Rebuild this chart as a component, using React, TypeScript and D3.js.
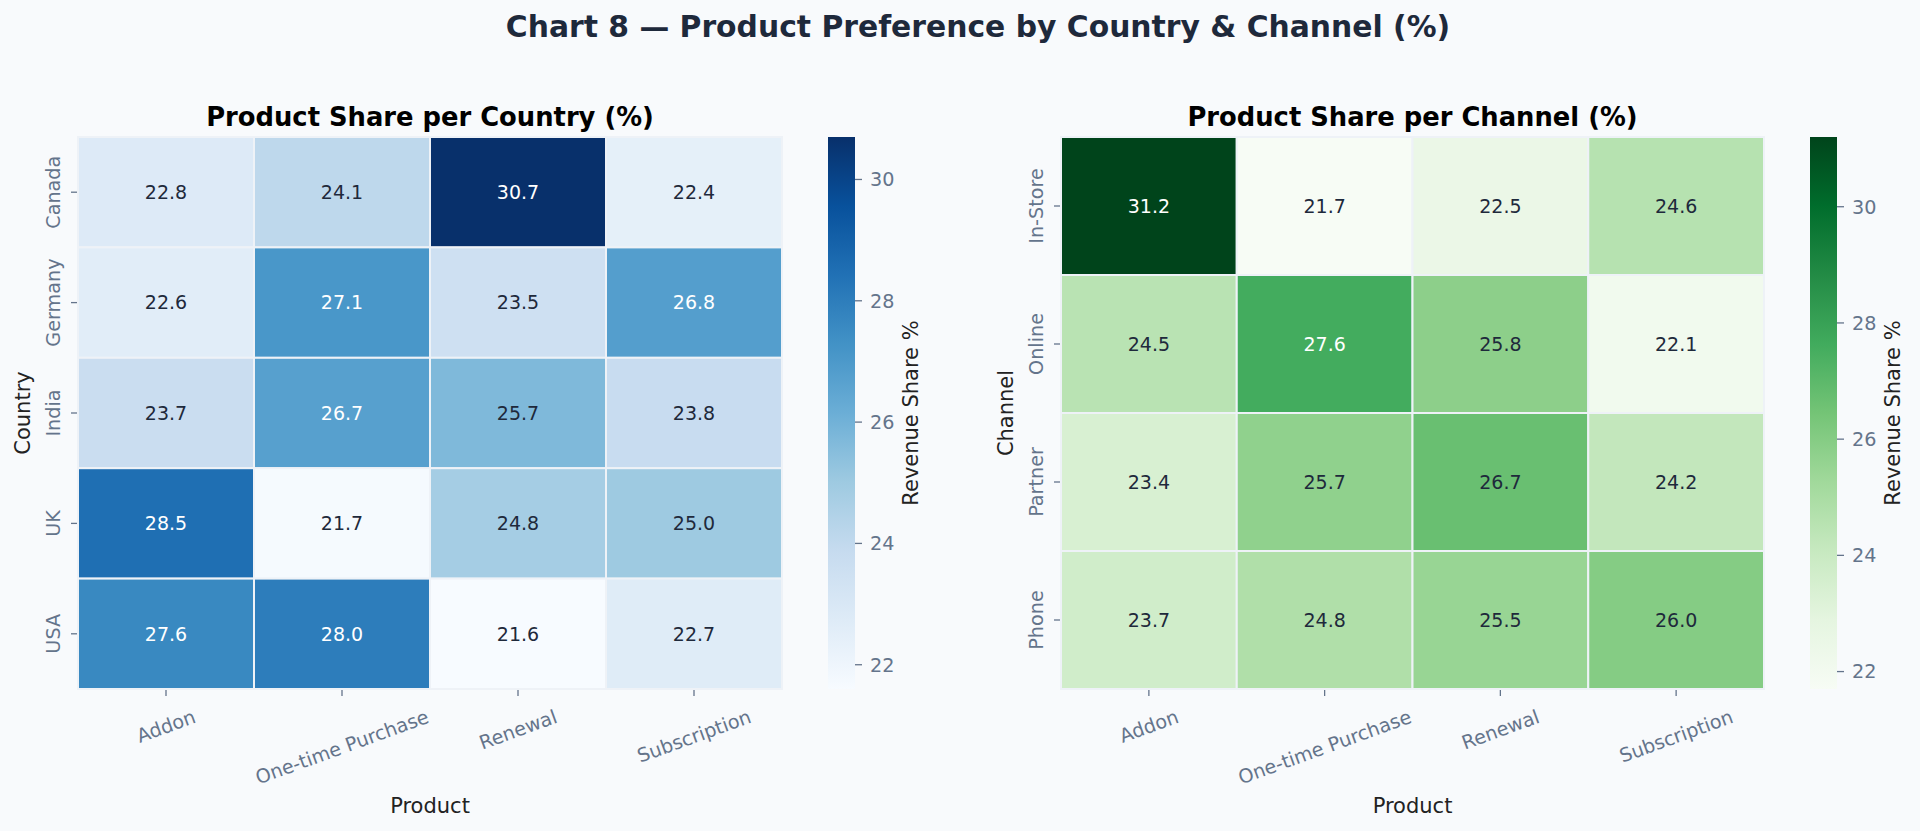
import React, { useEffect } from "react";
import * as d3 from "d3";

const products = ["Addon", "One-time Purchase", "Renewal", "Subscription"];
const countries = ["Canada", "Germany", "India", "UK", "USA"];
const countryValues = [
  [22.8, 24.1, 30.7, 22.4],
  [22.6, 27.1, 23.5, 26.8],
  [23.7, 26.7, 25.7, 23.8],
  [28.5, 21.7, 24.8, 25.0],
  [27.6, 28.0, 21.6, 22.7],
];
const channels = ["In-Store", "Online", "Partner", "Phone"];
const channelValues = [
  [31.2, 21.7, 22.5, 24.6],
  [24.5, 27.6, 25.8, 22.1],
  [23.4, 25.7, 26.7, 24.2],
  [23.7, 24.8, 25.5, 26.0],
];
const blueStops = ["#f7fbff", "#deebf7", "#c6dbef", "#9ecae1", "#6baed6", "#4292c6", "#2171b5", "#08519c", "#08306b"];
const greenStops = ["#f7fcf5", "#e5f5e0", "#c7e9c0", "#a1d99b", "#74c476", "#41ab5d", "#238b45", "#006d2c", "#00441b"];
const cbTicks = [22, 24, 26, 28, 30];

const W = 1920;
const H = 831;
const FONT = "'DejaVu Sans', 'Liberation Sans', sans-serif";
const TICK_FS = 19.2;
const ANNOT_FS = 19;
const LABEL_FS = 21;
const GRAY = "#64748b";

let ctx: CanvasRenderingContext2D | null = null;
function textWidth(t: string, fs: number) {
  if (!ctx) ctx = document.createElement("canvas").getContext("2d");
  if (!ctx) return t.length * fs * 0.6;
  ctx.font = `${fs}px "DejaVu Sans"`;
  return ctx.measureText(t).width;
}

function luminance(c: string) {
  const rgb = d3.rgb(c);
  const f = (v: number) => {
    const s = v / 255;
    return s <= 0.03928 ? s / 12.92 : Math.pow((s + 0.055) / 1.055, 2.4);
  };
  return 0.2126 * f(rgb.r) + 0.7152 * f(rgb.g) + 0.0722 * f(rgb.b);
}

interface HMProps {
  id: string;
  x0: number;
  y0: number;
  w: number;
  h: number;
  rows: string[];
  cols: string[];
  values: number[][];
  stops: string[];
  title: string;
  yLabel: string;
  cbX: number;
}

function Heatmap(p: HMProps) {
  const flat = p.values.flat();
  const ext = d3.extent(flat) as [number, number];
  const n = p.stops.length;
  const color = d3
    .scaleLinear<string>()
    .domain(p.stops.map((_, i) => ext[0] + (i / (n - 1)) * (ext[1] - ext[0])))
    .range(p.stops)
    .interpolate(d3.interpolateRgb);
  const xs = d3.scaleBand().domain(p.cols).range([p.x0, p.x0 + p.w]);
  const ys = d3.scaleBand().domain(p.rows).range([p.y0, p.y0 + p.h]);
  const cbScale = d3.scaleLinear().domain(ext).range([p.y0 + p.h, p.y0]);
  const cbW = 27;
  const bottom = p.y0 + p.h;
  const rad = (20 * Math.PI) / 180;
  const cx = p.x0 + p.w / 2;

  return (
    <g>
      <defs>
        <linearGradient id={p.id} x1="0" y1="1" x2="0" y2="0">
          {p.stops.map((s, i) => (
            <stop key={i} offset={i / (n - 1)} stopColor={s} />
          ))}
        </linearGradient>
      </defs>
      <text x={cx} y={126} textAnchor="middle" fontSize={25.8} fontWeight="bold" fill="#000" fontFamily={FONT}>
        {p.title}
      </text>
      {p.rows.map((r, ri) =>
        p.cols.map((c, ci) => {
          const v = p.values[ri][ci];
          const fill = color(v);
          const tc = luminance(fill) > 0.408 ? "#1e293b" : "#ffffff";
          return (
            <g key={r + c}>
              <rect
                x={xs(c)}
                y={ys(r)}
                width={xs.bandwidth()}
                height={ys.bandwidth()}
                fill={fill}
                stroke="#eef2f7"
                strokeWidth={2}
              />
              <text
                x={(xs(c) as number) + xs.bandwidth() / 2}
                y={(ys(r) as number) + ys.bandwidth() / 2}
                dy="0.36em"
                textAnchor="middle"
                fontSize={ANNOT_FS}
                fill={tc}
                fontFamily={FONT}
              >
                {v.toFixed(1)}
              </text>
            </g>
          );
        })
      )}
      {p.rows.map((r) => {
        const y = (ys(r) as number) + ys.bandwidth() / 2;
        return (
          <g key={"yt" + r}>
            <line x1={p.x0 - 7} x2={p.x0 - 1} y1={y} y2={y} stroke={GRAY} strokeWidth={1.3} />
            <text
              transform={`translate(${p.x0 - 18},${y}) rotate(-90)`}
              textAnchor="middle"
              fontSize={TICK_FS}
              fill={GRAY}
              fontFamily={FONT}
            >
              {r}
            </text>
          </g>
        );
      })}
      {p.cols.map((c) => {
        const x = (xs(c) as number) + xs.bandwidth() / 2;
        const tw = textWidth(c, TICK_FS);
        const capH = 0.73 * TICK_FS;
        const cy = bottom + 20 + (tw / 2) * Math.sin(rad) + (capH / 2) * Math.cos(rad);
        return (
          <g key={"xt" + c}>
            <line x1={x} x2={x} y1={bottom + 1} y2={bottom + 7} stroke={GRAY} strokeWidth={1.3} />
            <text
              transform={`translate(${x},${cy}) rotate(-20)`}
              dy="0.36em"
              textAnchor="middle"
              fontSize={TICK_FS}
              fill={GRAY}
              fontFamily={FONT}
            >
              {c}
            </text>
          </g>
        );
      })}
      <text x={cx} y={805} dy="0.36em" textAnchor="middle" fontSize={LABEL_FS} fill="#222" fontFamily={FONT}>
        Product
      </text>
      <text
        transform={`translate(${p.x0 - 48},${p.y0 + p.h / 2}) rotate(-90)`}
        textAnchor="middle"
        fontSize={LABEL_FS}
        fill="#222"
        fontFamily={FONT}
      >
        {p.yLabel}
      </text>
      <rect x={p.cbX} y={p.y0} width={cbW} height={p.h} fill={`url(#${p.id})`} />
      {cbTicks.map((t) => {
        const y = cbScale(t);
        return (
          <g key={"cb" + t}>
            <line x1={p.cbX + cbW} x2={p.cbX + cbW + 7} y1={y} y2={y} stroke={GRAY} strokeWidth={1.3} />
            <text x={p.cbX + cbW + 15} y={y} dy="0.36em" fontSize={TICK_FS} fill={GRAY} fontFamily={FONT}>
              {t}
            </text>
          </g>
        );
      })}
      <text
        transform={`translate(${p.cbX + cbW + 63},${p.y0 + p.h / 2}) rotate(-90)`}
        textAnchor="middle"
        fontSize={LABEL_FS}
        fill="#222"
        fontFamily={FONT}
      >
        Revenue Share %
      </text>
    </g>
  );
}

export default function App() {
  useEffect(() => {
    document.body.style.margin = "0";
    document.body.style.background = "#f8fafc";
  }, []);
  return (
    <svg
      width={W}
      height={H}
      viewBox={`0 0 ${W} ${H}`}
      style={{ position: "absolute", left: 0, top: 0, display: "block" }}
    >
      <rect x={0} y={0} width={W} height={H} fill="#f8fafc" />
      <text x={978} y={36.5} textAnchor="middle" fontSize={29.8} fontWeight="bold" fill="#1e293b" fontFamily={FONT}>
        Chart 8 — Product Preference by Country &amp; Channel (%)
      </text>
      <Heatmap
        id="gBlues"
        x0={78}
        y0={137}
        w={704}
        h={552}
        rows={countries}
        cols={products}
        values={countryValues}
        stops={blueStops}
        title="Product Share per Country (%)"
        yLabel="Country"
        cbX={828}
      />
      <Heatmap
        id="gGreens"
        x0={1061}
        y0={137}
        w={703}
        h={552}
        rows={channels}
        cols={products}
        values={channelValues}
        stops={greenStops}
        title="Product Share per Channel (%)"
        yLabel="Channel"
        cbX={1810}
      />
    </svg>
  );
}
